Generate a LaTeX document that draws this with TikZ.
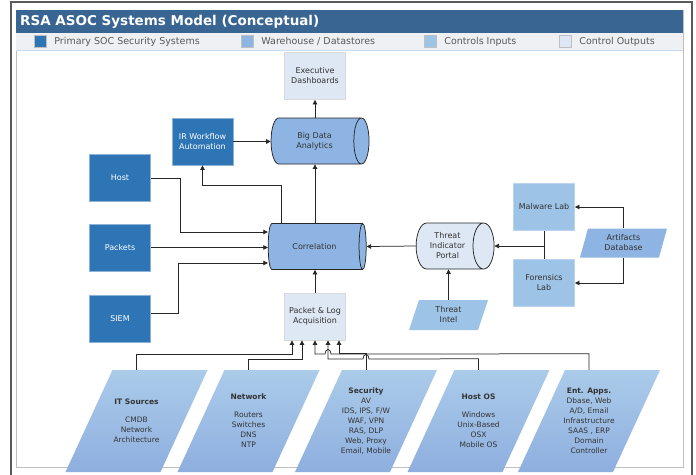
\documentclass[tikz,border=0pt]{standalone}
\usepackage{fontspec}
\setmainfont{DejaVu Sans}
\usetikzlibrary{arrows.meta, positioning, shapes.geometric, calc}
\definecolor{asocTitle}{HTML}{386592}
\definecolor{asocStrip}{HTML}{EEF0F3}
\definecolor{asocFrame}{HTML}{5A5A5A}
\definecolor{asocPrimary}{HTML}{2E75B6}
\definecolor{asocWare}{HTML}{8EB4E3}
\definecolor{asocInput}{HTML}{9DC3E6}
\definecolor{asocOutput}{HTML}{DDE8F4}
\definecolor{asocSrcTop}{HTML}{ABCBEA}
\definecolor{asocSrcBot}{HTML}{8EAFDF}
\definecolor{textMuted}{HTML}{595959}
\definecolor{textDark}{HTML}{333333}
\tikzset{
  flow/.style={-{Triangle[length=4.5pt,width=4.5pt]}, black!85, line width=0.75pt},
  link/.style={black!85, line width=0.75pt},
  boxP/.style={rectangle, draw=asocPrimary!55, line width=0.8pt, fill=asocPrimary,
               text=white, align=center, font=\fontsize{8}{10}\selectfont,
               inner sep=2pt, minimum width=61pt, minimum height=47pt},
  boxI/.style={boxP, draw=asocInput!70!white, fill=asocInput, text=textDark},
  boxO/.style={boxP, draw=black!15, fill=asocOutput, text=textDark},
  store/.style={cylinder, draw=black!85, line width=0.75pt, cylinder uses custom fill,
                cylinder body fill=#1, cylinder end fill=#1, shape aspect=0.7,
                text=textDark, align=center, font=\fontsize{8}{10}\selectfont,
                inner sep=2pt, minimum height=98pt, minimum width=46pt},
  store/.default=asocWare,
  % parallelogram drawn inside the node box: #1 = slant, #2 = paint options
  slanted/.style 2 args={rectangle, draw=none, inner sep=1pt, align=center,
                 text=textDark, path picture={
                   \path[#2] (path picture bounding box.south west)
                     -- ([xshift=-#1]path picture bounding box.south east)
                     -- (path picture bounding box.north east)
                     -- ([xshift=#1]path picture bounding box.north west) -- cycle;}},
  dataIn/.style={slanted={10pt}{fill=#1}, font=\fontsize{8}{10}\selectfont,
                 minimum width=79pt, minimum height=30pt},
  dataIn/.default=asocInput,
  source/.style={slanted={47pt}{top color=asocSrcTop, bottom color=asocSrcBot},
                 font=\fontsize{7.5}{10}\selectfont,
                 minimum width=142pt, minimum height=102pt},
  legendkey/.style={rectangle, draw=black!25, fill=#1, minimum size=12pt, inner sep=0pt},
  legendtxt/.style={anchor=west, text=textMuted, font=\fontsize{9.5}{11}\selectfont,
                    inner sep=0pt},
}
\begin{document}
\begin{tikzpicture}[x=1pt, y=-1pt, font=\fontsize{8}{10}\selectfont]
  \useasboundingbox (0,0) rectangle (696,474);
  \fill[white] (0,0) rectangle (696,474);
  % frame, title bar and legend strip
  \draw[asocFrame, line width=1.8pt] (11,480) -- (11,2) -- (692,2) -- (692,480);
  \draw[black!25, fill=white] (16,10) rectangle (683,467);
  \fill[asocTitle] (16,10) rectangle (683,33);
  \fill[asocStrip] (16,33) rectangle (683,50);
  \draw[asocInput!60] (16,50) -- (683,50);
  \node[anchor=west, text=white, font=\bfseries\fontsize{13.5}{15}\selectfont, inner sep=0pt]
        (title) at (20,21.5) {RSA ASOC Systems Model (Conceptual)};
  \foreach \x/\c/\t [count=\i] in {40/asocPrimary/Primary SOC Security Systems,
      247/asocWare/{Warehouse / Datastores}, 430/asocInput/Controls Inputs,
      565/asocOutput/Control Outputs} {
    \node[legendkey=\c] (key\i) at (\x,41.5) {};
    \node[legendtxt, right=8pt of key\i] (lbl\i) {\t};
  }

  % core systems
  \node[boxO] (exec) at (315,76) {Executive\\Dashboards};
  \node[boxP] (irw) at (202.5,141.5) {IR Workflow\\Automation};
  \node[store] (big) at (314.5,141) {Big Data\\Analytics};
  \node[boxP] (host) at (120,178) {Host};
  \node[boxP] (pkt) at (120,247.5) {Packets};
  \node[boxP] (siem) at (120,319) {SIEM};
  \node[store] (corr) at (314.5,246.5) {Correlation};
  \node[boxO] (pla) at (315,316.5) {Packet \& Log\\Acquisition};
  \node[store=asocOutput, minimum height=78pt] (tip) at (447.5,246) {Threat\\Indicator\\Portal};
  \node[dataIn] (intel) at (448.5,315) {Threat\\Intel};
  \node[boxI] (mal) at (544,207) {Malware Lab};
  \node[boxI] (fore) at (544,283) {Forensics\\Lab};
  \node[dataIn=asocWare, slanted={8pt}{fill=asocWare}, minimum width=87pt,
        minimum height=29pt] (art) at (623.5,243) {Artifacts\\Database};

  % sources
  \node[source] (itsrc) at (136.5,421) {\textbf{IT Sources}\\[8pt]CMDB\\Network\\Architecture};
  \node[source] (netsrc) at (248.5,421) {\textbf{Network}\\[8pt]Routers\\Switches\\DNS\\NTP};
  \node[source] (secsrc) at (366,421) {\textbf{Security}\\AV\\IDS, IPS, F/W\\WAF, VPN\\RAS, DLP\\Web, Proxy\\Email, Mobile};
  \node[source] (hostsrc) at (478.5,421) {\textbf{Host OS}\\[8pt]Windows\\Unix-Based\\OSX\\Mobile OS};
  \node[source] (entsrc) at (589,421) {\textbf{Ent. Apps.}\\Dbase, Web\\A/D, Email\\Infrastructure\\SAAS , ERP\\Domain\\Controller};

  % connectors
  \draw[flow] (big.north -| exec.south) -- (exec.south);
  \draw[flow] (irw.east) -- (big.west |- irw.east);
  \draw[flow] ([xshift=-33pt]corr.north) -- ++(0,-38) -| (irw.south);
  \draw[flow] (corr.north -| exec.south) -- (big.south -| exec.south);
  \draw[flow] (host.east) -- ++(29,0) |- ([yshift=14.5pt]corr.west);
  \draw[flow] (pkt.east) -- (corr.west |- pkt.east);
  \draw[flow] ([yshift=6pt]siem.east) -- ++(27,0) |- ([yshift=-16.5pt]corr.west);
  \draw[flow] (pla.north) -- (corr.south -| pla.north);
  \draw[flow] (tip.west) -- (corr.east);
  \draw[flow] (intel.north) -- (tip.south -| intel.north);
  \draw[link] (mal.south) -- (fore.north);
  \draw[flow] (mal.south |- tip.east) -- (tip.east);
  \draw[flow] (art.north) |- (mal.east);
  \draw[flow] (art.south) |- (fore.east);
  \draw[flow] (itsrc.north) -- ++(0,-15) -| ([xshift=-23pt]pla.south);
  \draw[flow] (netsrc.north) -- ++(0,-10) -| ([xshift=-13pt]pla.south);
  \draw[flow] (secsrc.north) -- ++(0,-16) -| ([xshift=24pt]pla.south);
  \draw[flow] (hostsrc.north) -- ++(0,-11) -- (369,359)
    .. controls (369,353) and (363,353) .. (363,359) -| ([xshift=13pt]pla.south);
  \draw[flow] (entsrc.north) -- ++(0,-16) -- (331,354)
    .. controls (331,348) and (325,348) .. (325,354) -| (pla.south);
\end{tikzpicture}
\end{document}
